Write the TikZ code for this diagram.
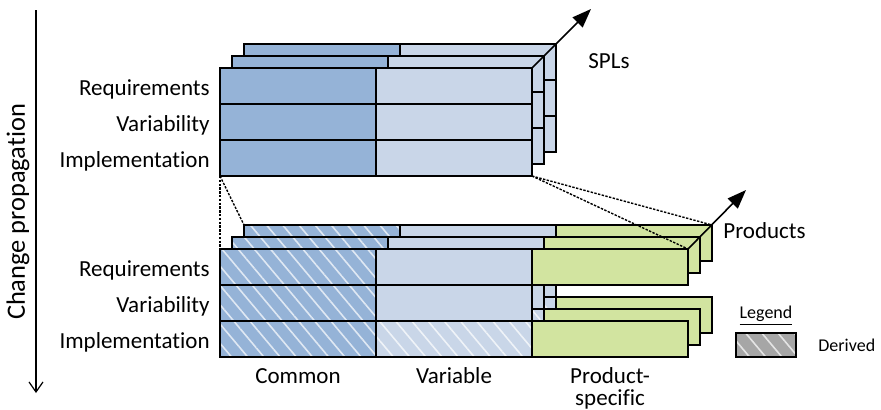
\documentclass[tikz,border=0pt]{standalone}
\usepackage{fontspec}
\setmainfont{Carlito}[Ligatures=NoCommon]
\usepackage{xcolor}
\usepackage{tikz}
\usetikzlibrary{positioning,arrows.meta,patterns.meta}

\definecolor{commonblue}{HTML}{95B3D7}
\definecolor{variableblue}{HTML}{C9D6E8}
\definecolor{productgreen}{HTML}{D2E4A0}
\definecolor{legendgrey}{HTML}{A6A6A6}

\tikzset{
  cell/.style={draw, line width=0.9pt, inner sep=0pt, outer sep=0pt,
    anchor=north west, minimum width=78pt, minimum height=18pt},
  commoncell/.style={cell, fill=commonblue},
  variablecell/.style={cell, fill=variableblue},
  productcell/.style={cell, fill=productgreen},
  derivedcell/.style={cell,
    preaction={fill=#1},
    preaction={pattern={Lines[angle=-50, distance=6.2pt, line width=0.8pt]},
      pattern color=white!70!#1}},
  bigtext/.style={inner sep=0pt, font=\fontsize{11.5}{14}\selectfont},
  smalltext/.style={inner sep=0pt, font=\fontsize{9}{11}\selectfont},
  layerlabel/.style={bigtext, anchor=base east},
  dimarrow/.style={line width=0.8pt, -{Triangle[length=9.5pt, width=7pt]}},
  linkline/.style={line width=0.7pt, dash pattern=on 1.2pt off 0.7pt}
}

\begin{document}
\begin{tikzpicture}[x=0.5pt, y=-0.5pt]
\useasboundingbox (0,0) rectangle (881,409);

\foreach \l in {2,1,0}{
  \foreach \r in {0,1,2}{
    \node[commoncell] (spl\l-\r-c) at ({220+12*\l},{68-12*\l+36*\r}) {};
    \node[variablecell] (spl\l-\r-v) at (spl\l-\r-c.north east) {};
  }
}

\foreach \l in {2,1,0}{
  \foreach \r in {0,1,2}{
    \node[derivedcell=commonblue] (prd\l-\r-c) at ({220+12*\l},{249-12*\l+36*\r}) {};
  }
  \node[variablecell] (prd\l-0-v) at (prd\l-0-c.north east) {};
  \node[variablecell] (prd\l-1-v) at (prd\l-1-c.north east) {};
  \node[derivedcell=variableblue] (prd\l-2-v) at (prd\l-2-c.north east) {};
  \node[productcell] (prd\l-0-p) at (prd\l-0-v.north east) {};
  \node[productcell] (prd\l-2-p) at (prd\l-2-v.north east) {};
}

\foreach \r/\txt in {0/Requirements,1/Variability,2/Implementation}{
  \node[layerlabel] (spllabel\r) at ([shift={(-5pt,-4.5pt)}]spl0-\r-c.west) {\txt};
  \node[layerlabel] (prdlabel\r) at ([shift={(-5pt,-4.5pt)}]prd0-\r-c.west) {\txt};
}

\node[bigtext, anchor=base] (commonlabel) at ([yshift=-13pt]prd0-2-c.south) {Common};
\node[bigtext, anchor=base] (variablelabel) at ([yshift=-13pt]prd0-2-v.south) {Variable};
\node[bigtext, anchor=base, align=center] (productlabel) at ([yshift=-24pt]prd0-2-p.south) {Product-\\[-3pt]specific};

\coordinate (splhead) at (591,9);
\coordinate (prdhead) at (746,190);
\draw[dimarrow] (spl0-0-v.north east) -- (splhead);
\draw[dimarrow] (prd0-0-p.north east) -- (prdhead);
\node[bigtext, anchor=base west] (spllabel) at (588,68) {SPLs};
\node[bigtext, anchor=base west] (prdlabel) at (723,238) {Products};

\draw[linkline] (spl0-2-c.south west) -- (prd0-0-c.north west);
\draw[linkline] (spl0-2-c.south west) -- (prd2-0-c.north west);
\draw[linkline] (spl0-2-v.south east) -- (prd0-0-p.north east);
\draw[linkline] (spl0-2-v.south east) -- (prd2-0-p.north east);

\coordinate (cptop) at (36,10);
\coordinate (cpbottom) at (36,393);
\draw[line width=0.6pt, -{Straight Barb[length=5pt, width=7pt]}] (cptop) -- (cpbottom);
\node[inner sep=0pt, font=\fontsize{13.2}{16}\selectfont, rotate=90] (cplabel) at (18,212) {Change propagation};

\node[smalltext, anchor=base] (legendlabel) at (766,318) {\underline{Legend}};
\node[derivedcell=legendgrey, minimum width=30pt, minimum height=12pt] (legendbox) at (736,333) {};
\node[smalltext, anchor=base west] (derivedlabel) at (818,351) {Derived};

\end{tikzpicture}
\end{document}
